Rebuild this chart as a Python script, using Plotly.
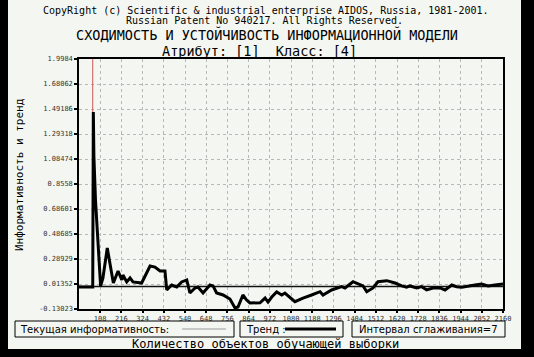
import plotly.graph_objects as go

# ---------------- data ----------------
trend_x = [0, 70, 73, 76, 84, 107, 110, 122, 144, 175, 199, 218, 224, 243, 260, 275, 301, 319,
           362, 387, 413, 438, 447, 472, 498, 523, 549, 565, 591, 606, 632, 667, 683, 701, 734,
           769, 795, 810, 835, 854, 871, 897, 922, 948, 963, 982, 1007, 1033, 1049, 1100, 1141,
           1185, 1228, 1243, 1287, 1338, 1355, 1396, 1421, 1447, 1466, 1498, 1523, 1568, 1610,
           1644, 1669, 1686, 1720, 1746, 1771, 1803, 1839, 1865, 1899, 1924, 1950, 1982, 2017,
           2051, 2084, 2119, 2160]
trend_y = [0.057, 0.057, 1.547, 1.164, 0.798, 0.091, 0.066, 0.134, 0.389, 0.091, 0.193, 0.117,
           0.159, 0.100, 0.134, 0.100, 0.091, 0.091, 0.236, 0.227, 0.193, 0.193, 0.032, 0.074,
           0.057, 0.100, 0.117, 0.006, 0.049, 0.057, 0.006, 0.074, 0.066, 0.006, -0.011, -0.045,
           -0.122, -0.113, -0.011, -0.054, -0.079, -0.079, -0.077, -0.037, -0.071, -0.028, 0.015,
           -0.011, 0.006, -0.068, -0.037, -0.011, 0.017, -0.011, 0.032, 0.060, 0.049, 0.102,
           0.083, 0.066, 0.017, 0.049, 0.102, 0.111, 0.091, 0.066, 0.055, 0.066, 0.049, 0.060,
           0.032, 0.049, 0.049, 0.032, 0.074, 0.060, 0.055, 0.066, 0.074, 0.083, 0.066, 0.074,
           0.083]

spike_x = [70, 70]
spike_y = [0.057, 1.9984]

mean_level = 0.061

x_tickvals = [108 * i for i in range(1, 21)]
x_ticktext = ["108", "216", "324", "432", "540", "648", "756", "864", "972", "1080", "1188",
              "1296", "1404", "1512", "1620", "1728", "1836", "1944", "2052", "2160"]

y_min, y_max = -0.13023, 1.9984
y_ticktext = ["-0.13023", "0.01352", "0.28929", "0.48685", "0.68601", "0.8558", "1.08474",
              "1.29318", "1.49186", "1.68062", "1.9984"]
y_tickvals = [y_min + (y_max - y_min) * i / 10 for i in range(11)]

title_lines = [
    "CopyRight (c) Scientific & industrial enterprise AIDOS, Russia, 1981-2001.",
    "Russian Patent No 940217. All Rights Reserved.",
]
main_title = "СХОДИМОСТЬ И УСТОЙЧИВОСТЬ ИНФОРМАЦИОННОЙ МОДЕЛИ"
sub_title = "Атрибут: [1]  Класс: [4]"
y_title = "Информативность и тренд"
x_title = "Количество объектов обучающей выборки"
legend_1 = "Текущая информативность:"
legend_2 = "Тренд :"
legend_3 = "Интервал сглаживания=7"

# ---------------- layout helpers ----------------
W, H = 534, 357
L, R, T, B = 79, 503, 59, 309  # plot area in pixels


def px(x):
    return (x - L) / (R - L)


def py(y):
    return (B - y) / (B - T)


BG = "#f4f7f1"
MONO = "DejaVu Sans Mono"
SANS = "DejaVu Sans"

fig = go.Figure()
fig.add_trace(go.Scatter(x=[0, 2160], y=[mean_level, mean_level], mode="lines",
                         line=dict(color="#111111", width=1.5), hoverinfo="skip"))
fig.add_trace(go.Scatter(x=spike_x, y=spike_y, mode="lines",
                         line=dict(color="#cc5555", width=1), hoverinfo="skip"))
fig.add_trace(go.Scatter(x=trend_x, y=trend_y, mode="lines",
                         line=dict(color="#000000", width=3), hoverinfo="skip"))

shapes = [
    dict(type="rect", xref="paper", yref="paper", x0=px(8), x1=px(521), y0=py(349), y1=py(0),
         fillcolor=BG, line=dict(width=0), layer="below"),
    # legend boxes
    dict(type="rect", xref="paper", yref="paper", x0=px(15), x1=px(234), y0=py(337), y1=py(321),
         line=dict(color="#000", width=1), fillcolor="rgba(0,0,0,0)"),
    dict(type="rect", xref="paper", yref="paper", x0=px(240), x1=px(343), y0=py(337), y1=py(321),
         line=dict(color="#000", width=1), fillcolor="rgba(0,0,0,0)"),
    dict(type="rect", xref="paper", yref="paper", x0=px(352), x1=px(505), y0=py(337), y1=py(321),
         line=dict(color="#000", width=1), fillcolor="rgba(0,0,0,0)"),
    dict(type="line", xref="paper", yref="paper", x0=px(182), x1=px(226), y0=py(329), y1=py(329),
         line=dict(color="#c8c8c8", width=2)),
    dict(type="line", xref="paper", yref="paper", x0=px(285), x1=px(336), y0=py(329), y1=py(329),
         line=dict(color="#000", width=3)),
]

annotations = [
    dict(text=title_lines[0], x=px(266), y=py(10), font=dict(family=MONO, size=10, color="#000")),
    dict(text=title_lines[1], x=px(264), y=py(20), font=dict(family=MONO, size=10, color="#000")),
    dict(text=main_title, x=px(267), y=py(35), font=dict(family=MONO, size=13.5, color="#000")),
    dict(text=sub_title, x=px(259), y=py(51), font=dict(family=MONO, size=13.5, color="#000")),
    dict(text=y_title, x=px(19), y=py(175), textangle=-90, font=dict(family=MONO, size=11, color="#000")),
    dict(text=x_title, x=px(265), y=py(344), font=dict(family=MONO, size=12, color="#000")),
    dict(text=legend_1, x=px(18), y=py(329), xanchor="left", font=dict(family=SANS, size=10, color="#000")),
    dict(text=legend_2, x=px(244), y=py(329), xanchor="left", font=dict(family=SANS, size=10, color="#000")),
    dict(text=legend_3, x=px(357), y=py(329), xanchor="left", font=dict(family=SANS, size=10, color="#000")),
]
for a in annotations:
    a.update(xref="paper", yref="paper", showarrow=False)
    a.setdefault("xanchor", "center")
    a.setdefault("yanchor", "middle")

fig.update_layout(
    width=W, height=H,
    margin=dict(l=L, r=W - R, t=T, b=H - B, pad=0),
    paper_bgcolor="#000000", plot_bgcolor=BG,
    showlegend=False,
    shapes=shapes, annotations=annotations,
    xaxis=dict(range=[0, 2160], tickvals=x_tickvals, ticktext=x_ticktext,
               showgrid=True, gridcolor="#b8b8b8", griddash="dot", gridwidth=1,
               showline=True, linecolor="#000", linewidth=1.5, mirror=True,
               ticks="outside", ticklen=2, tickwidth=2, tickcolor="#000",
               tickfont=dict(family=MONO, size=7, color="#333"), zeroline=False),
    yaxis=dict(range=[y_min, y_max], tickvals=y_tickvals, ticktext=y_ticktext,
               showgrid=True, gridcolor="#b8b8b8", griddash="dot", gridwidth=1,
               showline=True, linecolor="#000", linewidth=1.5, mirror=True,
               ticks="outside", ticklen=3, tickwidth=2, tickcolor="#000",
               tickfont=dict(family=MONO, size=7, color="#333"), zeroline=False),
)

fig.write_html("out.html")
